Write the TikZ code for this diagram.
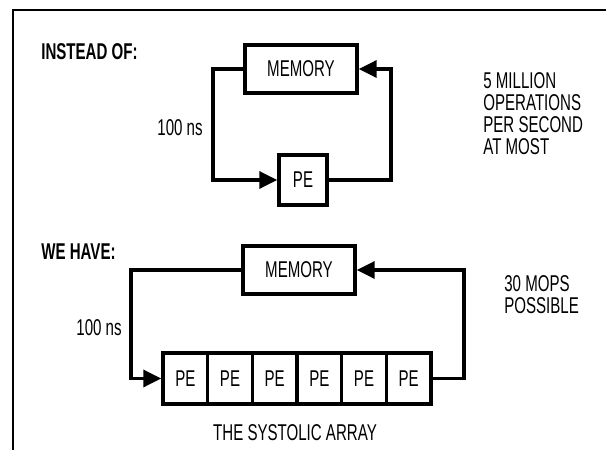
\documentclass[tikz,border=0pt]{standalone}
\usepackage{fontspec}
\setmainfont{Liberation Sans}[FakeStretch=0.66]
\usetikzlibrary{arrows.meta,positioning}
\newcommand{\figfont}{\fontsize{13}{12.5}\selectfont}
\tikzset{
  >={Triangle[length=3.6mm,width=3.4mm]},
  unitbox/.style={draw, line width=2pt, inner sep=0pt, font=\figfont},
  membox/.style={unitbox, minimum width=2.24cm, minimum height=0.96cm},
  pebox/.style={unitbox, minimum width=0.96cm, minimum height=1.0cm},
  cell/.style={unitbox, minimum width=0.8933cm, minimum height=1.02cm},
  lbl/.style={font=\figfont, inner sep=0pt},
  head/.style={font=\figfont\bfseries, inner sep=0pt, anchor=west},
  note/.style={lbl, align=left, anchor=north west},
  flow/.style={->, line width=2pt},
  frame/.style={line width=1.3pt},
}

\begin{document}
\begin{tikzpicture}[x=0.02cm,y=-0.02cm]
  \useasboundingbox (0,0) rectangle (606,450);
  \draw[frame] (606,10) -- (13,10) -- (13,450);
  % instead of
  \node[head] (insteadof) at (41,52) {INSTEAD OF:};
  \node[membox] (mem1) at (301,69) {MEMORY};
  \node[pebox] (pe1) at (303,180) {PE};
  \coordinate (left1) at (213,0);
  \coordinate (right1) at (391,0);
  \draw[flow] (mem1.west) -- (mem1.west -| left1) |- (pe1.west);
  \draw[flow] (pe1.east) -- (pe1.east -| right1) |- (mem1.east);
  \node[lbl,anchor=east] (t1) at (203,128) {100 ns};
  \node[note] (rate1) at (483,72) {5 MILLION\\OPERATIONS\\PER SECOND\\AT MOST};
  % we have
  \node[head] (wehave) at (41,252) {WE HAVE:};
  \node[membox] (mem2) at (299,270) {MEMORY};
  \foreach \i in {1,...,6}{
    \node[cell] (c\i) at ({163+44.67*(\i-0.5)},378.5) {PE};
  }
  \coordinate (left2) at (131,0);
  \coordinate (right2) at (464,0);
  \draw[flow] (mem2.west) -- (mem2.west -| left2) |- (c1.west);
  \draw[flow] (c6.east) -- (c6.east -| right2) |- (mem2.east);
  \node[lbl,anchor=east] (t2) at (122,328) {100 ns};
  \node[note] (rate2) at (504,275.5) {30 MOPS\\POSSIBLE};
  \node[lbl] (sys) at (295,433) {THE SYSTOLIC ARRAY};
\end{tikzpicture}
\end{document}
